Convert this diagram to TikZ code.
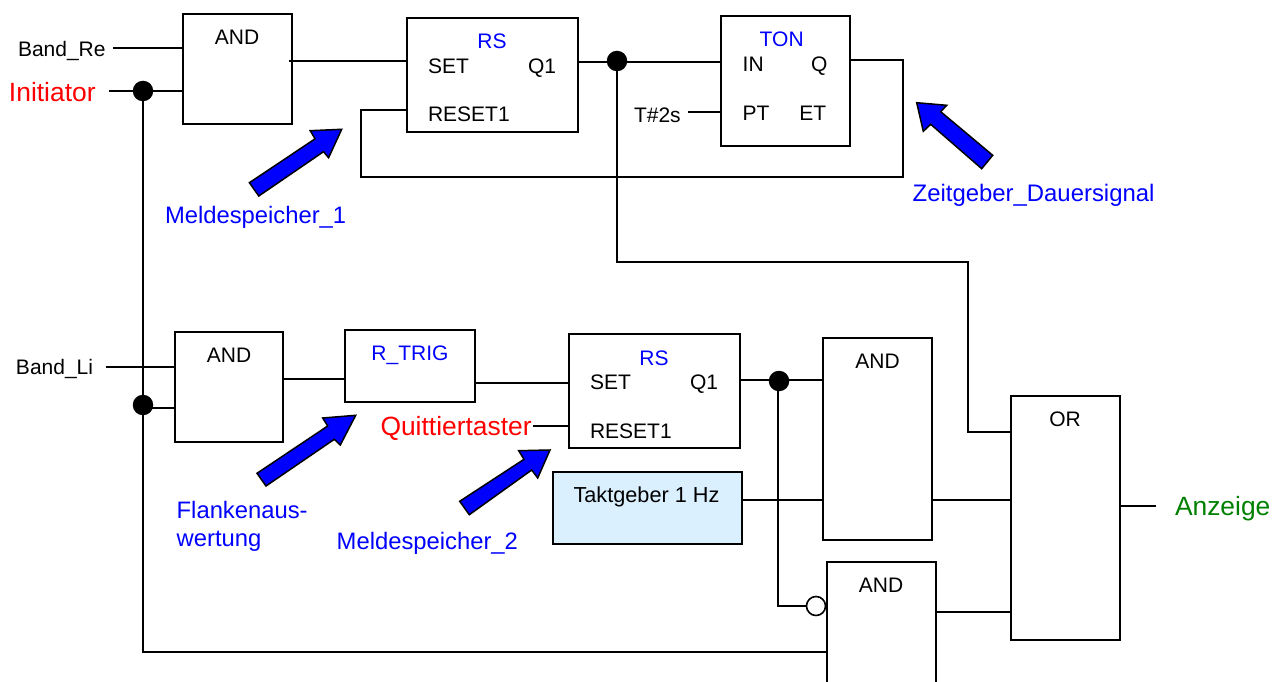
\documentclass[tikz,border=0pt]{standalone}
\usepackage{fontspec}
\setmainfont{Liberation Sans}
\definecolor{clockfill}{HTML}{DBF0FF}
\definecolor{anzgreen}{HTML}{008000}
\tikzset{
  blockbox/.style={draw=black,line width=2pt,rectangle,inner sep=0pt,outer sep=0pt,fill=white},
  wire/.style={draw=black,line width=2pt,line join=miter},
  junction/.style={circle,fill=black,inner sep=0pt,outer sep=0pt,minimum size=20.5pt},
  negdot/.style={circle,draw=black,fill=white,line width=1.6pt,inner sep=0pt,outer sep=0pt,minimum size=19pt},
  txt/.style={inner sep=0pt,outer sep=0pt,anchor=base west,text=black,font=\fontsize{21}{24}\selectfont},
  ctxt/.style={txt,anchor=base},
  bluec/.style={ctxt,text=blue},
  bluel/.style={txt,text=blue,font=\fontsize{23.8}{28}\selectfont},
  redl/.style={txt,text=red,font=\fontsize{26.4}{30}\selectfont},
  greenl/.style={txt,text=anzgreen,font=\fontsize{26.4}{30}\selectfont},
  bigarrow/.style={fill=blue,draw=black,line width=1.5pt,line join=miter}
}
\begin{document}
\begin{tikzpicture}[x=1pt,y=-1pt]
\clip (0,0) rectangle (1283,682);
\fill[white] (0,0) rectangle (1283,682);
% blocks
\node[blockbox,minimum width=108.5pt,minimum height=110pt] (and1) at (237.25,69) {};
\node[blockbox,minimum width=171pt,minimum height=114pt] (rs1) at (492.5,75) {};
\node[blockbox,minimum width=129pt,minimum height=130pt] (ton) at (785.5,81) {};
\node[blockbox,minimum width=108pt,minimum height=110pt] (and2) at (229,387) {};
\node[blockbox,minimum width=130pt,minimum height=72pt] (rtrig) at (410,366) {};
\node[blockbox,minimum width=171pt,minimum height=114pt] (rs2) at (654.5,391) {};
\node[blockbox,minimum width=109pt,minimum height=202pt] (and3) at (877.5,439) {};
\node[blockbox,fill=clockfill,minimum width=189pt,minimum height=72pt] (clock) at (647.5,508) {};
\node[blockbox,minimum width=109pt,minimum height=140pt] (and4) at (881.5,632) {};
\node[blockbox,minimum width=109pt,minimum height=244pt] (orb) at (1065.5,518) {};
% junctions
\node[junction] (j1) at (143,91) {};
\node[junction] (j2) at (143,405) {};
\node[junction] (j3) at (617,61) {};
\node[junction] (j4) at (779,381) {};
\node[negdot] (neg) at (816,606) {};
% free ends and corners
\coordinate (bandreEnd) at (113,48);
\coordinate (initEnd) at (109,91);
\coordinate (t2End) at (688,112);
\coordinate (bandliEnd) at (106,366.5);
\coordinate (quitEnd) at (533,425.5);
\coordinate (anzEnd) at (1156,505.5);
\coordinate (and1out) at (289,61);
\coordinate (tonFb1) at (903,60.5);
\coordinate (tonFb2) at (903,177);
\coordinate (tonFb3) at (361,177);
\coordinate (tonFb4) at (361,110.5);
\coordinate (orA) at (617,262);
\coordinate (orB) at (968,262);
\coordinate (orC) at (968,432);
\coordinate (negC) at (777.5,606);
\coordinate (botC) at (143,652);
% wires
\draw[wire] (bandreEnd) -- (and1.west |- bandreEnd);
\draw[wire] (initEnd) -- (j1) -- (and1.west |- j1);
\draw[wire] (j1) -- (j2) -- (botC) -- (and4.west |- botC);
\draw[wire] (and1out) -- (rs1.west |- and1out);
\draw[wire] (rs1.east |- 0,62) -- (ton.west |- 0,62);
\draw[wire] (ton.east |- tonFb1) -- (tonFb1) -- (tonFb2) -- (tonFb3) -- (tonFb4) -- (rs1.west |- tonFb4);
\draw[wire] (t2End) -- (ton.west |- t2End);
\draw[wire] (j3) -- (orA) -- (orB) -- (orC) -- (orb.west |- orC);
\draw[wire] (bandliEnd) -- (and2.west |- bandliEnd);
\draw[wire] (j2 |- 0,408) -- (and2.west |- 0,408);
\draw[wire] (and2.east |- 0,379) -- (rtrig.west |- 0,379);
\draw[wire] (rtrig.east |- 0,383) -- (rs2.west |- 0,383);
\draw[wire] (quitEnd) -- (rs2.west |- quitEnd);
\draw[wire] (rs2.east |- 0,379.5) -- (and3.west |- 0,379.5);
\draw[wire] (negC |- j4) -- (negC) -- (neg.west);
\draw[wire] (clock.east |- 0,500) -- (and3.west |- 0,500);
\draw[wire] (and3.east |- 0,500) -- (orb.west |- 0,500);
\draw[wire] (and4.east |- 0,611.5) -- (orb.west |- 0,611.5);
\draw[wire] (orb.east |- anzEnd) -- (anzEnd);
% big arrows
\path[bigarrow] (249.4,182.7) -- (258.8,196) -- (323.5,151.7) -- (328.6,157.7) -- (341.7,129.3) -- (310.2,130.7) -- (315.1,138.8) -- cycle;
\path[bigarrow] (992.7,155.3) -- (981.7,168.7) -- (930.7,124.3) -- (923.3,131.3) -- (916.7,102.7) -- (946.7,105.3) -- (940.7,111.7) -- cycle;
\path[bigarrow] (257,473.3) -- (266,486) -- (334.3,439.3) -- (340.3,445) -- (355.7,415.3) -- (322.7,418) -- (327.7,426) -- cycle;
\path[bigarrow] (459.7,501.3) -- (469.3,514.7) -- (531.7,470) -- (537.7,478) -- (550,450) -- (518.7,450.7) -- (524,459.3) -- cycle;
% texts
\node[txt] (tBandRe) at (18,56.5) {Band\_Re};
\node[redl] (tInit) at (9,101.5) {Initiator};
\node[ctxt] (tAnd1) at (237,44.5) {AND};
\node[bluec] (tRs1) at (492,49) {RS};
\node[txt] (tSet1) at (428,73.5) {SET};
\node[txt] (tQ1a) at (528,73.5) {Q1};
\node[txt] (tRes1) at (428,121.7) {RESET1};
\node[bluec] (tTon) at (781.7,46.5) {TON};
\node[txt] (tIn) at (742.7,71.5) {IN};
\node[txt] (tQ) at (811,71.5) {Q};
\node[txt] (tPt) at (742.7,121) {PT};
\node[txt] (tEt) at (799.3,121) {ET};
\node[txt] (tT2) at (634,122.5) {T\#2s};
\node[bluel] (tMs1) at (165,223.5) {Meldespeicher\_1};
\node[bluel,font=\fontsize{23.9}{28}\selectfont] (tZeit) at (912.7,201.5) {Zeitgeber\_Dauersignal};
\node[txt] (tBandLi) at (16,374) {Band\_Li};
\node[ctxt] (tAnd2) at (229,362) {AND};
\node[bluec] (tTrig) at (410,360) {R\_TRIG};
\node[redl] (tQuit) at (380.5,435) {Quittiertaster};
\node[bluec] (tRs2) at (654,365) {RS};
\node[txt] (tSet2) at (590,389) {SET};
\node[txt] (tQ1b) at (690,389) {Q1};
\node[txt] (tRes2) at (590,438) {RESET1};
\node[ctxt] (tAnd3) at (877.5,368) {AND};
\node[ctxt,font=\fontsize{21.7}{24}\selectfont] (tClock) at (646.5,502) {Taktgeber 1 Hz};
\node[ctxt] (tAnd4) at (881,592) {AND};
\node[ctxt] (tOr) at (1065,426) {OR};
\node[greenl] (tAnz) at (1175,515) {Anzeige};
\node[bluel] (tFl1) at (176.7,518) {Flankenaus-};
\node[bluel] (tFl2) at (176.7,546) {wertung};
\node[bluel] (tMs2) at (336.7,549) {Meldespeicher\_2};
\end{tikzpicture}
\end{document}
